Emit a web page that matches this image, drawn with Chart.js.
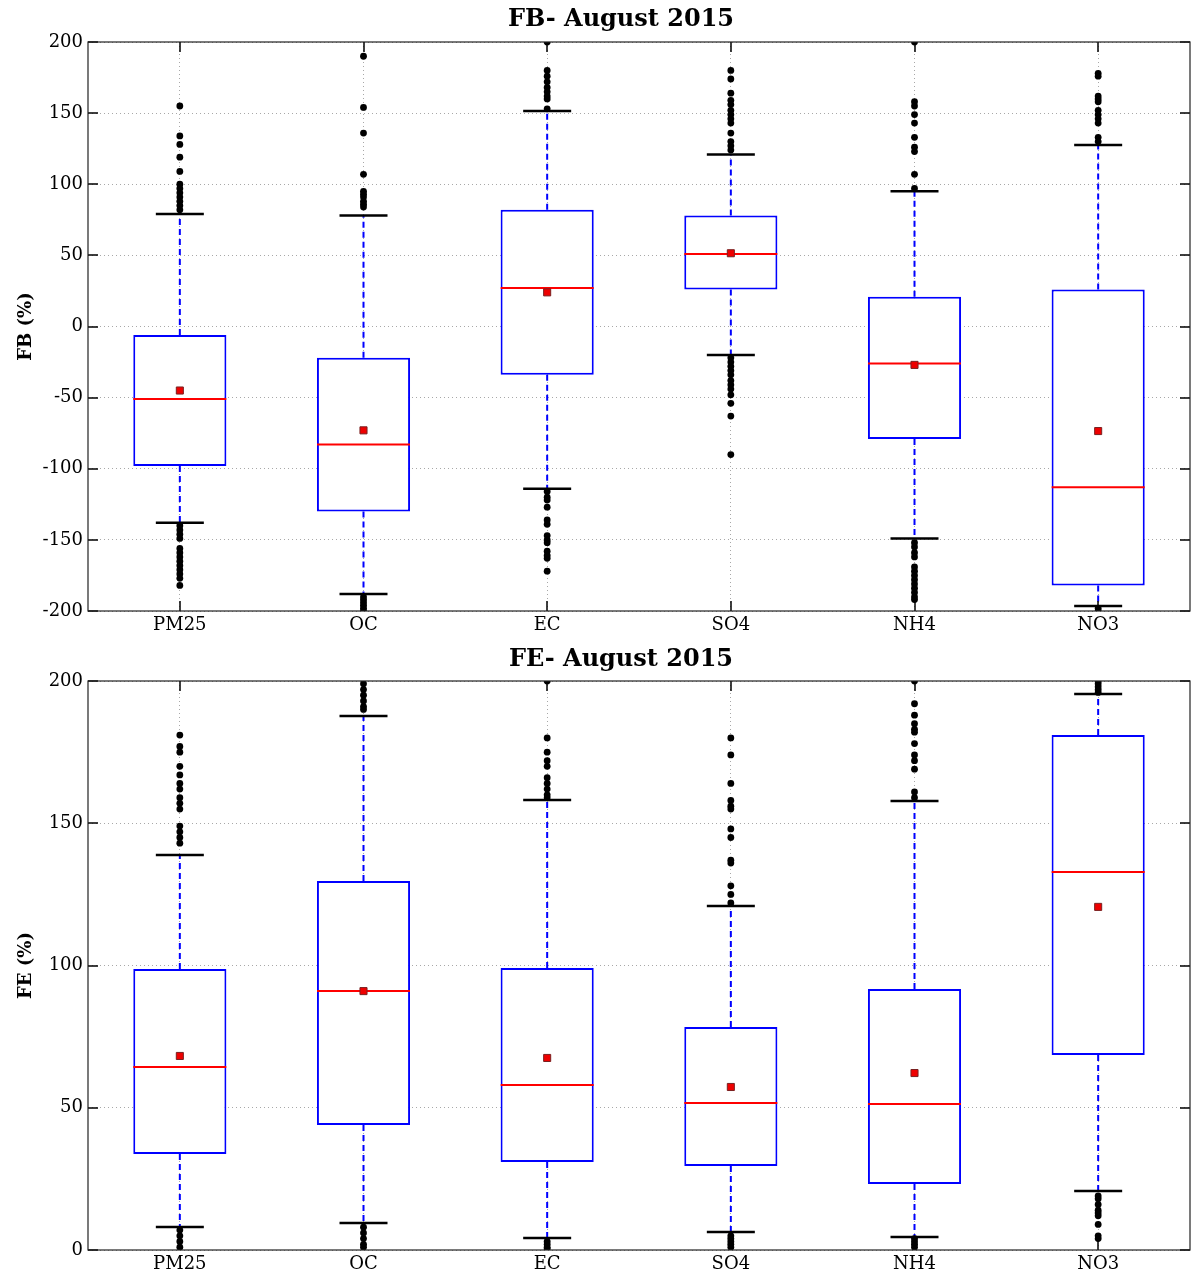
<!DOCTYPE html>
<html>
<head>
<meta charset="utf-8">
<script src="https://cdn.jsdelivr.net/npm/chart.js@4/dist/chart.umd.min.js"></script>
<style>
  html, body { margin:0; padding:0; background:#fff; }
  #wrap { position:relative; width:1192px; height:1273px; overflow:hidden; }
  .t { position:absolute; left:621px; transform:translateX(-50%); font-family:"DejaVu Serif", serif; font-weight:bold; font-size:24px; line-height:24px; white-space:nowrap; color:#000; z-index:2; }
  canvas { position:absolute; left:0; }
</style>
</head>
<body>
<div id="wrap">
  <canvas id="c1" width="1192" height="640" style="top:0"></canvas>
  <div class="t" style="top:6px">FB- August 2015</div>
  <canvas id="c2" width="1192" height="633" style="top:640px"></canvas>
  <div class="t" style="top:646px">FE- August 2015</div>
</div>
<script>
// ---------- DATA ----------
const categories = ['PM25', 'OC', 'EC', 'SO4', 'NH4', 'NO3'];

// FB (%) – August 2015
const fbQ1          = [-98, -130, -34, 26, -79, -182];
const fbQ3          = [-6, -22, 82, 78, 21, 26];
const fbMedian      = [-51, -83, 27, 51, -26, -113];
const fbMean        = [-45, -73, 24, 51.5, -27, -73.5];
const fbWhiskerLow  = [-138, -188, -114, -20, -149, -196.5];
const fbWhiskerHigh = [79, 78, 151.5, 121, 95, 127.6];
const fbOutliers = [
  [155, 134, 128, 119, 109, 100, 97, 94, 91, 88, 85, 82, -140, -143, -146, -149, -156, -159, -162, -165, -168, -171, -174, -177, -182],
  [190, 154, 136, 107, 95, 93, 91, 88, 86, 84, -190, -192, -194, -196, -198, -200],
  [200, 180, 176, 172, 168, 165, 162, 160, 153, -116, -120, -122, -127, -136, -139, -147, -150, -152, -158, -161, -163, -172],
  [180, 174, 164, 159, 156, 152, 149, 146, 143, 136, 130, 127, 124, -22, -25, -28, -31, -34, -38, -41, -44, -48, -54, -63, -90],
  [200, 158, 155, 149, 143, 133, 126, 123, 107, 97, -152, -155, -159, -162, -169, -172, -175, -178, -181, -184, -187, -190, -192],
  [178, 176, 162, 160, 158, 152, 149, 146, 143, 133, 130, -198, -200]
];

// FE (%) – August 2015
const feQ1          = [33.7, 43.9, 30.9, 29.5, 23.2, 68.5];
const feQ3          = [98.8, 129.7, 99.1, 78.4, 91.7, 181];
const feMedian      = [64.3, 91, 58, 51.7, 51.3, 132.9];
const feMean        = [68.2, 91, 67.5, 57.3, 62.2, 120.6];
const feWhiskerLow  = [8.1, 9.5, 4.2, 6.3, 4.6, 20.7];
const feWhiskerHigh = [138.8, 187.7, 158.2, 120.9, 157.8, 195.4];
const feOutliers = [
  [181, 177, 175, 170, 167, 164, 162, 159, 157, 155, 149, 147, 145, 143, 7, 5, 3, 1],
  [199, 197, 195, 193, 191, 190, 8, 6, 4, 2, 1],
  [200, 180, 175, 172, 170, 166, 164, 162, 160, 159, 3, 2, 1, 0.5],
  [180, 174, 164, 158, 156, 155, 148, 145, 137, 136, 128, 125, 122, 5, 4, 3, 2, 1],
  [200, 192, 188, 185, 183, 182, 178, 174, 172, 169, 161, 159, 4, 3, 2, 1],
  [200, 199, 198, 197, 196, 19, 18, 16, 14, 13, 12, 9, 5, 4]
];

const fbTicks = { min: -200, max: 200, step: 50 };
const feTicks = { min: 0, max: 200, step: 50 };

// ---------- CHART ----------
const SERIF = '"DejaVu Serif", serif';

const frameTicks = {
  id: 'frameTicks',
  afterDatasetsDraw(chart) {
    const { ctx, chartArea: a, scales: { x, y } } = chart;
    ctx.save();
    ctx.strokeStyle = '#000';
    ctx.lineWidth = 1.5;
    y.ticks.forEach((t, i) => {
      const py = Math.round(y.getPixelForTick(i));
      ctx.beginPath();
      ctx.moveTo(a.left, py); ctx.lineTo(a.left + 10, py);
      ctx.moveTo(a.right - 10, py); ctx.lineTo(a.right, py);
      ctx.stroke();
    });
    x.ticks.forEach((t, i) => {
      const px = Math.round(x.getPixelForTick(i));
      ctx.beginPath();
      ctx.moveTo(px, a.top); ctx.lineTo(px, a.top + 10);
      ctx.moveTo(px, a.bottom - 10); ctx.lineTo(px, a.bottom);
      ctx.stroke();
    });
    ctx.strokeStyle = '#222';
    ctx.lineWidth = 1.2;
    ctx.strokeRect(a.left, a.top, a.right - a.left, a.bottom - a.top);
    ctx.restore();
  }
};

function makeChart(id, yTitle, q1, q3, med, mean, wLo, wHi, outl, tk, padTop, xHeight) {
  const whisker = [];
  categories.forEach((c, i) => {
    whisker.push({ x: c, y: q3[i] }, { x: c, y: wHi[i] }, { x: c, y: null });
    whisker.push({ x: c, y: q1[i] }, { x: c, y: wLo[i] }, { x: c, y: null });
  });
  const caps = [];
  categories.forEach((c, i) => { caps.push({ x: c, y: wLo[i] }, { x: c, y: wHi[i] }); });
  const fliers = [];
  categories.forEach((c, i) => outl[i].forEach(v => fliers.push({ x: c, y: v })));

  return new Chart(document.getElementById(id), {
    type: 'bar',
    data: {
      labels: categories,
      datasets: [
        { type: 'line', label: 'outliers', order: 0, data: fliers, showLine: false,
          pointStyle: 'circle', pointRadius: 3.4, pointHoverRadius: 3.4, pointBackgroundColor: '#000', pointBorderColor: '#000', pointBorderWidth: 0 },
        { type: 'line', label: 'mean', order: 1, data: categories.map((c, i) => ({ x: c, y: mean[i] })), showLine: false,
          pointStyle: 'rect', pointRadius: 5, pointHoverRadius: 5, pointBackgroundColor: '#ee0000', pointBorderColor: '#7a2020', pointBorderWidth: 1 },
        { type: 'line', label: 'median', order: 2, data: categories.map((c, i) => ({ x: c, y: med[i] })), showLine: false,
          pointStyle: 'line', pointRadius: 46.5, pointHoverRadius: 46.5, pointBorderColor: '#ff0000', pointBorderWidth: 2 },
        { type: 'line', label: 'caps', order: 3, data: caps, showLine: false,
          pointStyle: 'line', pointRadius: 24, pointHoverRadius: 24, pointBorderColor: '#000', pointBorderWidth: 2.5 },
        { type: 'line', label: 'whiskers', order: 5, data: whisker, spanGaps: false,
          borderColor: '#0000ff', borderWidth: 2, borderDash: [6, 4], pointRadius: 0, pointHoverRadius: 0 },
        { type: 'bar', label: 'box', order: 4, data: categories.map((c, i) => [q1[i], q3[i]]),
          backgroundColor: 'rgba(255,255,255,1)', borderColor: '#0000ff', borderWidth: 2, borderSkipped: false,
          categoryPercentage: 1.0, barPercentage: 0.507 }
      ]
    },
    options: {
      responsive: false,
      devicePixelRatio: 1,
      animation: false,
      events: [],
      layout: { autoPadding: false, padding: { top: padTop, right: 2, left: 0, bottom: 0 } },
      plugins: { legend: { display: false }, tooltip: { enabled: false }, title: { display: false } },
      scales: {
        x: {
          type: 'category',
          offset: true,
          grid: { offset: false, color: '#a8a8a8', lineWidth: 1, drawTicks: false },
          border: { display: false, dash: [1, 3] },
          ticks: { color: '#000', font: { family: SERIF, size: 18 }, padding: 4, maxRotation: 0 },
          afterFit(s) { s.height = xHeight; }
        },
        y: {
          min: tk.min, max: tk.max,
          grid: { color: '#a8a8a8', lineWidth: 1, drawTicks: false },
          border: { display: false, dash: [1, 3] },
          ticks: { stepSize: tk.step, color: '#000', font: { family: SERIF, size: 18 }, padding: 5 },
          title: { display: true, text: yTitle, color: '#000', font: { family: SERIF, size: 18, weight: 'bold' }, padding: { top: 16, bottom: 0 } },
          afterFit(s) { s.width = 88; }
        }
      }
    },
    plugins: [frameTicks]
  });
}

makeChart('c1', 'FB (%)', fbQ1, fbQ3, fbMedian, fbMean, fbWhiskerLow, fbWhiskerHigh, fbOutliers, fbTicks, 42, 29);
makeChart('c2', 'FE (%)', feQ1, feQ3, feMedian, feMean, feWhiskerLow, feWhiskerHigh, feOutliers, feTicks, 41, 23);
</script>
</body>
</html>
